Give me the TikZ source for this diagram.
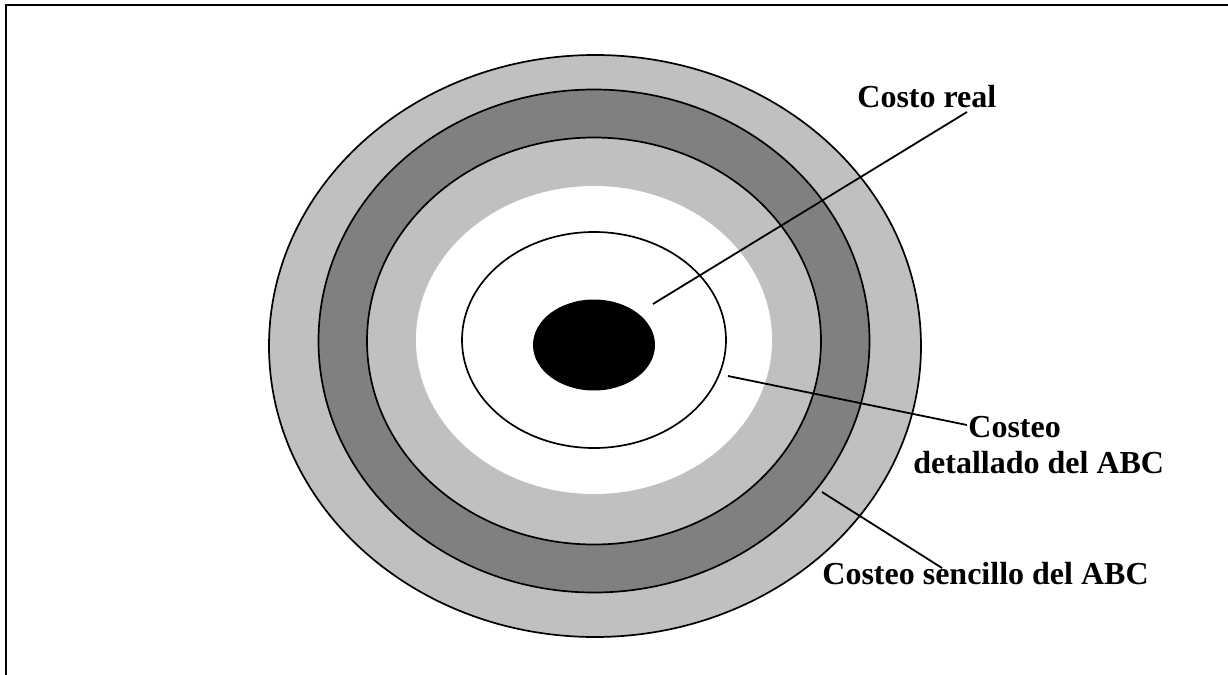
\documentclass[tikz,border=0pt]{standalone}
\usepackage{fontspec}
\setmainfont{Liberation Serif}
\definecolor{ltgray}{HTML}{C0C0C0}
\definecolor{dkgray}{HTML}{808080}
\begin{document}
\begin{tikzpicture}[x=0.5pt,y=-0.5pt,
  ringline/.style={draw=black,line width=0.85pt},
  lbl/.style={inner sep=0pt,anchor=base west,font=\fontsize{16}{19}\selectfont\bfseries},
  leader/.style={draw=black,line width=0.9pt}]
\useasboundingbox (0,0) rectangle (1228,675);
% frame
\draw[line width=1pt] (6,675) -- (6,5) -- (1228,5);
% rings
\path[ringline,fill=ltgray] (595,346) ellipse [x radius=163pt, y radius=145.5pt];
\path[ringline,fill=dkgray] (594,341) ellipse [x radius=137.75pt, y radius=125.75pt];
\path[ringline,fill=ltgray] (594,341) ellipse [x radius=113.5pt, y radius=101.75pt];
\path[fill=white] (594,340) ellipse [x radius=89pt, y radius=77pt];
\path[ringline] (594,340) ellipse [x radius=66pt, y radius=54pt];
\path[fill=black] (594,345) ellipse [x radius=30.5pt, y radius=22.75pt];
% labels
\node[lbl] (real) at (857,107) {Costo real};
\node[lbl] (det1) at (968,437) {Costeo};
\node[lbl] (det2) at (913,473) {detallado del ABC};
\node[lbl] (senc) at (822,584) {Costeo sencillo del ABC};
% connector ends
\coordinate (a1) at (653,304); \coordinate (a2) at (967,112);
\coordinate (b1) at (728,376); \coordinate (b2) at (967,425);
\coordinate (c1) at (822,492); \coordinate (c2) at (942,568);
\draw[leader] (a1) -- (a2);
\draw[leader] (b1) -- (b2);
\draw[leader] (c1) -- (c2);
\end{tikzpicture}
\end{document}
